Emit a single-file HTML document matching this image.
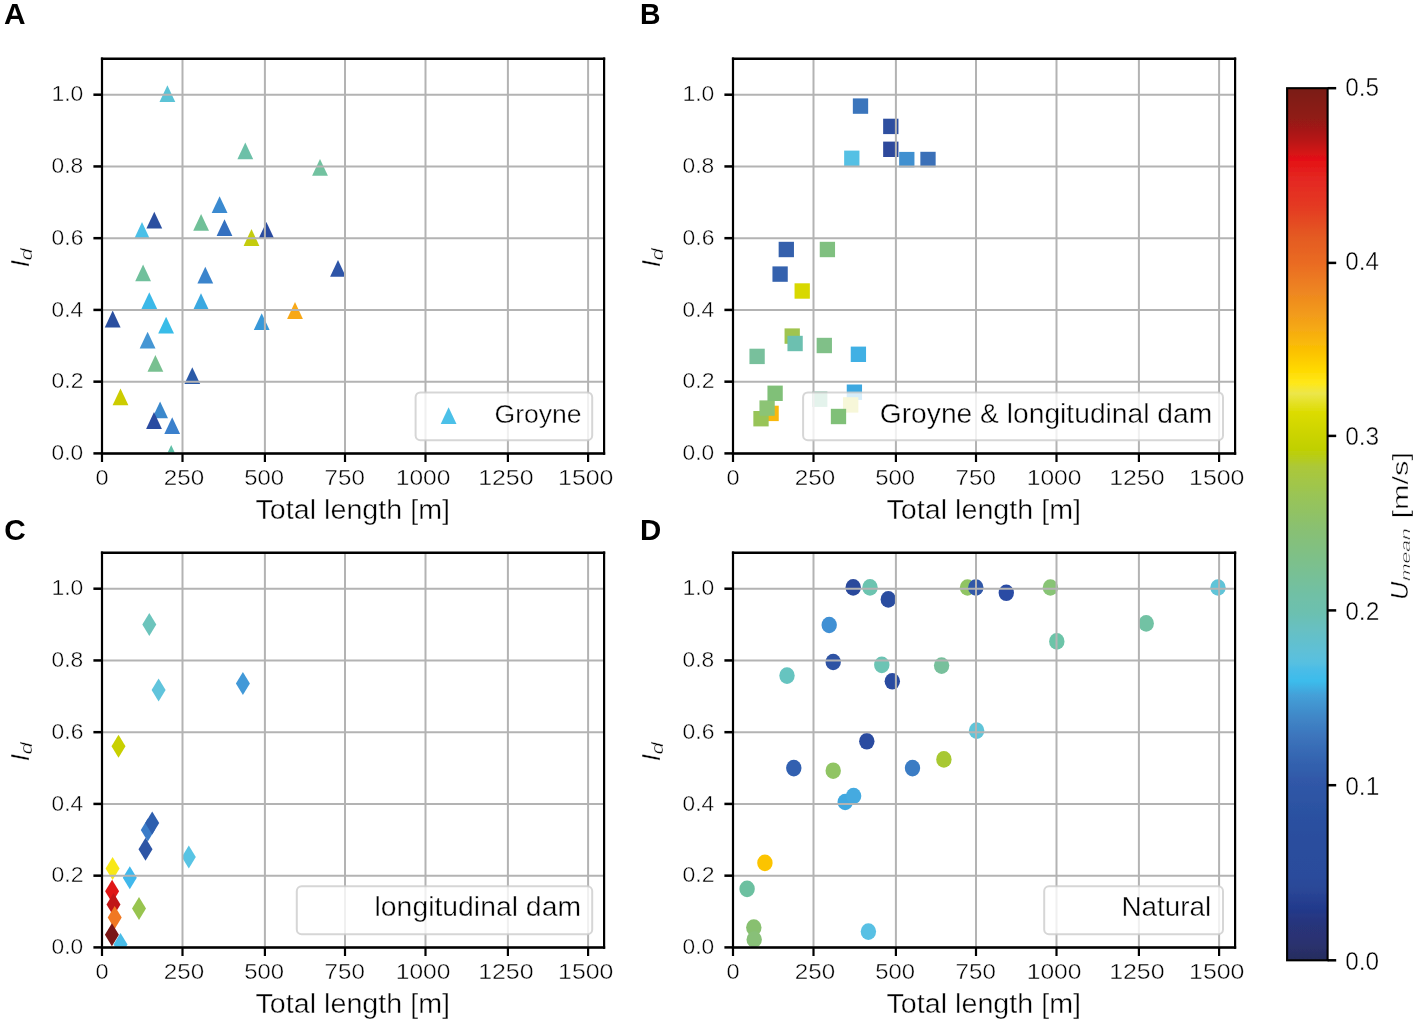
<!DOCTYPE html>
<html><head><meta charset="utf-8"><style>html,body{margin:0;padding:0;background:#fff;width:1417px;height:1023px;overflow:hidden} svg{display:block} svg text{font-family:"Liberation Sans",sans-serif;stroke:#fff;stroke-width:0.45px;stroke-opacity:0.9} svg text[font-weight=bold]{stroke:none}</style></head>
<body>
<svg width="1417" height="1023" viewBox="0 0 1417 1023">
<rect width="1417" height="1023" fill="#fff"/>
<filter id="soft" x="0" y="0" width="100%" height="100%" filterUnits="userSpaceOnUse"><feGaussianBlur stdDeviation="0.6"/></filter>
<g filter="url(#soft)">
<clipPath id="clipA"><rect x="102.00" y="58.80" width="502.10" height="394.60"/></clipPath>
<g clip-path="url(#clipA)">
<path d="M167.40,85.30L175.30,102.10L159.50,102.10Z" fill="#5bc3d6"/>
<path d="M245.30,142.50L253.20,159.30L237.40,159.30Z" fill="#6cc0a8"/>
<path d="M320.00,159.00L327.90,175.80L312.10,175.80Z" fill="#72c2a0"/>
<path d="M219.60,196.30L227.50,213.10L211.70,213.10Z" fill="#3a8ad0"/>
<path d="M154.30,211.70L162.20,228.50L146.40,228.50Z" fill="#2c4fa0"/>
<path d="M201.10,213.90L209.00,230.70L193.20,230.70Z" fill="#70c098"/>
<path d="M224.50,219.30L232.40,236.10L216.60,236.10Z" fill="#3470c0"/>
<path d="M142.00,222.10L149.90,238.90L134.10,238.90Z" fill="#4cc0e8"/>
<path d="M251.50,229.10L259.40,245.90L243.60,245.90Z" fill="#c4cc10"/>
<path d="M266.40,221.90L274.30,238.70L258.50,238.70Z" fill="#2c4ca0"/>
<path d="M143.10,264.40L151.00,281.20L135.20,281.20Z" fill="#70c09c"/>
<path d="M205.30,266.80L213.20,283.60L197.40,283.60Z" fill="#3a84cc"/>
<path d="M338.00,259.90L345.90,276.70L330.10,276.70Z" fill="#2d55a8"/>
<path d="M149.30,292.30L157.20,309.10L141.40,309.10Z" fill="#3ab8e8"/>
<path d="M201.00,293.30L208.90,310.10L193.10,310.10Z" fill="#3aa8e0"/>
<path d="M295.00,302.10L302.90,318.90L287.10,318.90Z" fill="#f8a818"/>
<path d="M112.70,310.60L120.60,327.40L104.80,327.40Z" fill="#2c50a0"/>
<path d="M166.10,316.70L174.00,333.50L158.20,333.50Z" fill="#38bce8"/>
<path d="M261.70,313.20L269.60,330.00L253.80,330.00Z" fill="#3898d8"/>
<path d="M147.60,331.70L155.50,348.50L139.70,348.50Z" fill="#4496d4"/>
<path d="M155.40,354.90L163.30,371.70L147.50,371.70Z" fill="#78c090"/>
<path d="M192.30,367.20L200.20,384.00L184.40,384.00Z" fill="#2c5aa8"/>
<path d="M120.50,388.50L128.40,405.30L112.60,405.30Z" fill="#cccc00"/>
<path d="M160.10,401.50L168.00,418.30L152.20,418.30Z" fill="#3a88cc"/>
<path d="M154.00,412.10L161.90,428.90L146.10,428.90Z" fill="#2c4ca0"/>
<path d="M172.20,417.30L180.10,434.10L164.30,434.10Z" fill="#3a80cc"/>
<path d="M171.20,445.00L179.10,461.80L163.30,461.80Z" fill="#60c0a8"/>
</g>
<line x1="102.00" y1="58.80" x2="102.00" y2="453.40" stroke="#b3b3b3" stroke-width="2.0"/>
<line x1="182.50" y1="58.80" x2="182.50" y2="453.40" stroke="#b3b3b3" stroke-width="2.0"/>
<line x1="264.90" y1="58.80" x2="264.90" y2="453.40" stroke="#b3b3b3" stroke-width="2.0"/>
<line x1="345.00" y1="58.80" x2="345.00" y2="453.40" stroke="#b3b3b3" stroke-width="2.0"/>
<line x1="425.50" y1="58.80" x2="425.50" y2="453.40" stroke="#b3b3b3" stroke-width="2.0"/>
<line x1="507.90" y1="58.80" x2="507.90" y2="453.40" stroke="#b3b3b3" stroke-width="2.0"/>
<line x1="588.10" y1="58.80" x2="588.10" y2="453.40" stroke="#b3b3b3" stroke-width="2.0"/>
<line x1="102.00" y1="453.40" x2="604.10" y2="453.40" stroke="#b3b3b3" stroke-width="2.0"/>
<line x1="102.00" y1="381.66" x2="604.10" y2="381.66" stroke="#b3b3b3" stroke-width="2.0"/>
<line x1="102.00" y1="309.92" x2="604.10" y2="309.92" stroke="#b3b3b3" stroke-width="2.0"/>
<line x1="102.00" y1="238.18" x2="604.10" y2="238.18" stroke="#b3b3b3" stroke-width="2.0"/>
<line x1="102.00" y1="166.44" x2="604.10" y2="166.44" stroke="#b3b3b3" stroke-width="2.0"/>
<line x1="102.00" y1="94.70" x2="604.10" y2="94.70" stroke="#b3b3b3" stroke-width="2.0"/>
<rect x="415.6" y="392.4" width="176.60" height="47.90" rx="4.8" ry="4.8" fill="#fff" fill-opacity="0.8" stroke="#cccccc" stroke-opacity="0.8" stroke-width="2"/>
<path d="M448.60,407.20L456.50,424.00L440.70,424.00Z" fill="#4cc0e8"/>
<text transform="translate(494.47,422.96) scale(1.0083,1)" font-size="26.37">Groyne</text>
<line x1="102.00" y1="57.60" x2="102.00" y2="454.70" stroke="#000" stroke-width="2.2"/>
<line x1="604.10" y1="57.60" x2="604.10" y2="454.70" stroke="#000" stroke-width="2.2"/>
<line x1="100.90" y1="58.80" x2="605.20" y2="58.80" stroke="#000" stroke-width="2.5"/>
<line x1="100.90" y1="453.40" x2="605.20" y2="453.40" stroke="#000" stroke-width="2.5"/>
<line x1="102.00" y1="453.40" x2="102.00" y2="462.00" stroke="#000" stroke-width="2.2"/>
<text transform="translate(95.46,485.28) scale(1.0529,1)" font-size="22.39">0</text>
<line x1="182.50" y1="453.40" x2="182.50" y2="462.00" stroke="#000" stroke-width="2.2"/>
<text transform="translate(163.79,485.28) scale(1.0802,1)" font-size="22.39">250</text>
<line x1="264.90" y1="453.40" x2="264.90" y2="462.00" stroke="#000" stroke-width="2.2"/>
<text transform="translate(244.15,485.28) scale(1.0649,1)" font-size="22.39">500</text>
<line x1="345.00" y1="453.40" x2="345.00" y2="462.00" stroke="#000" stroke-width="2.2"/>
<text transform="translate(324.59,485.28) scale(1.0774,1)" font-size="22.39">750</text>
<line x1="425.50" y1="453.40" x2="425.50" y2="462.00" stroke="#000" stroke-width="2.2"/>
<text transform="translate(395.76,485.28) scale(1.0984,1)" font-size="22.39">1000</text>
<line x1="507.90" y1="453.40" x2="507.90" y2="462.00" stroke="#000" stroke-width="2.2"/>
<text transform="translate(478.13,485.28) scale(1.1132,1)" font-size="22.39">1250</text>
<line x1="588.10" y1="453.40" x2="588.10" y2="462.00" stroke="#000" stroke-width="2.2"/>
<text transform="translate(558.03,485.28) scale(1.1132,1)" font-size="22.39">1500</text>
<line x1="102.00" y1="453.40" x2="93.40" y2="453.40" stroke="#000" stroke-width="2.5"/>
<text transform="translate(51.59,460.08) scale(1.0322,1)" font-size="22.11">0.0</text>
<line x1="102.00" y1="381.66" x2="93.40" y2="381.66" stroke="#000" stroke-width="2.5"/>
<text transform="translate(51.58,388.34) scale(1.0401,1)" font-size="22.11">0.2</text>
<line x1="102.00" y1="309.92" x2="93.40" y2="309.92" stroke="#000" stroke-width="2.5"/>
<text transform="translate(51.59,316.60) scale(1.0244,1)" font-size="22.11">0.4</text>
<line x1="102.00" y1="238.18" x2="93.40" y2="238.18" stroke="#000" stroke-width="2.5"/>
<text transform="translate(51.58,244.86) scale(1.0361,1)" font-size="22.11">0.6</text>
<line x1="102.00" y1="166.44" x2="93.40" y2="166.44" stroke="#000" stroke-width="2.5"/>
<text transform="translate(51.59,173.12) scale(1.0322,1)" font-size="22.11">0.8</text>
<line x1="102.00" y1="94.70" x2="93.40" y2="94.70" stroke="#000" stroke-width="2.5"/>
<text transform="translate(51.38,101.38) scale(1.0392,1)" font-size="22.11">1.0</text>
<text transform="translate(255.53,519.15) scale(1.0482,1)" font-size="27.38">Total length [m]</text>
<g transform="rotate(-90)">
<text transform="translate(-267.25,28.50) scale(1.0519,1)" font-size="24.93" font-style="italic">I</text>
</g>
<g transform="rotate(-90)">
<text transform="translate(-260.47,32.03) scale(1.2743,1)" font-size="17.28" font-style="italic">d</text>
</g>
<text transform="translate(4.10,23.95) scale(0.9999,1)" font-size="29.86" font-weight="bold">A</text>
<clipPath id="clipB"><rect x="733.00" y="58.80" width="502.10" height="394.60"/></clipPath>
<g clip-path="url(#clipB)">
<rect x="852.85" y="98.40" width="15.3" height="15.4" fill="#3a74bc"/>
<rect x="883.15" y="118.70" width="15.3" height="15.4" fill="#2f50a0"/>
<rect x="883.15" y="141.60" width="15.3" height="15.4" fill="#2e4a9c"/>
<rect x="844.15" y="150.60" width="15.3" height="15.4" fill="#54c0e4"/>
<rect x="899.15" y="151.90" width="15.3" height="15.4" fill="#4090d0"/>
<rect x="920.35" y="151.80" width="15.3" height="15.4" fill="#3a70b8"/>
<rect x="778.65" y="241.80" width="15.3" height="15.4" fill="#3460ac"/>
<rect x="819.75" y="241.80" width="15.3" height="15.4" fill="#80c080"/>
<rect x="772.45" y="266.40" width="15.3" height="15.4" fill="#3462ae"/>
<rect x="794.55" y="283.30" width="15.3" height="15.4" fill="#d8d800"/>
<rect x="784.55" y="328.40" width="15.3" height="15.4" fill="#a0c450"/>
<rect x="787.45" y="335.80" width="15.3" height="15.4" fill="#6cc0b0"/>
<rect x="816.65" y="337.80" width="15.3" height="15.4" fill="#80c088"/>
<rect x="749.45" y="348.70" width="15.3" height="15.4" fill="#78c09c"/>
<rect x="850.75" y="346.60" width="15.3" height="15.4" fill="#40b0e4"/>
<rect x="763.45" y="405.70" width="15.3" height="15.4" fill="#f8b810"/>
<rect x="753.35" y="411.00" width="15.3" height="15.4" fill="#98c458"/>
<rect x="759.45" y="400.40" width="15.3" height="15.4" fill="#8cc474"/>
<rect x="767.45" y="385.60" width="15.3" height="15.4" fill="#80c078"/>
<rect x="812.05" y="391.50" width="15.3" height="15.4" fill="#78c0a0"/>
<rect x="846.75" y="384.50" width="15.3" height="15.4" fill="#3ca8e0"/>
<rect x="843.05" y="397.20" width="15.3" height="15.4" fill="#d8d840"/>
</g>
<line x1="733.00" y1="58.80" x2="733.00" y2="453.40" stroke="#b3b3b3" stroke-width="2.0"/>
<line x1="813.50" y1="58.80" x2="813.50" y2="453.40" stroke="#b3b3b3" stroke-width="2.0"/>
<line x1="895.90" y1="58.80" x2="895.90" y2="453.40" stroke="#b3b3b3" stroke-width="2.0"/>
<line x1="976.00" y1="58.80" x2="976.00" y2="453.40" stroke="#b3b3b3" stroke-width="2.0"/>
<line x1="1056.50" y1="58.80" x2="1056.50" y2="453.40" stroke="#b3b3b3" stroke-width="2.0"/>
<line x1="1138.90" y1="58.80" x2="1138.90" y2="453.40" stroke="#b3b3b3" stroke-width="2.0"/>
<line x1="1219.10" y1="58.80" x2="1219.10" y2="453.40" stroke="#b3b3b3" stroke-width="2.0"/>
<line x1="733.00" y1="453.40" x2="1235.10" y2="453.40" stroke="#b3b3b3" stroke-width="2.0"/>
<line x1="733.00" y1="381.66" x2="1235.10" y2="381.66" stroke="#b3b3b3" stroke-width="2.0"/>
<line x1="733.00" y1="309.92" x2="1235.10" y2="309.92" stroke="#b3b3b3" stroke-width="2.0"/>
<line x1="733.00" y1="238.18" x2="1235.10" y2="238.18" stroke="#b3b3b3" stroke-width="2.0"/>
<line x1="733.00" y1="166.44" x2="1235.10" y2="166.44" stroke="#b3b3b3" stroke-width="2.0"/>
<line x1="733.00" y1="94.70" x2="1235.10" y2="94.70" stroke="#b3b3b3" stroke-width="2.0"/>
<rect x="803.1" y="392.4" width="419.90" height="47.90" rx="4.8" ry="4.8" fill="#fff" fill-opacity="0.8" stroke="#cccccc" stroke-opacity="0.8" stroke-width="2"/>
<rect x="830.85" y="408.80" width="15.3" height="15.4" fill="#80c078"/>
<text transform="translate(879.79,422.55) scale(0.9957,1)" font-size="28.34">Groyne &amp; longitudinal dam</text>
<line x1="733.00" y1="57.60" x2="733.00" y2="454.70" stroke="#000" stroke-width="2.2"/>
<line x1="1235.10" y1="57.60" x2="1235.10" y2="454.70" stroke="#000" stroke-width="2.2"/>
<line x1="731.90" y1="58.80" x2="1236.20" y2="58.80" stroke="#000" stroke-width="2.5"/>
<line x1="731.90" y1="453.40" x2="1236.20" y2="453.40" stroke="#000" stroke-width="2.5"/>
<line x1="733.00" y1="453.40" x2="733.00" y2="462.00" stroke="#000" stroke-width="2.2"/>
<text transform="translate(726.46,485.28) scale(1.0529,1)" font-size="22.39">0</text>
<line x1="813.50" y1="453.40" x2="813.50" y2="462.00" stroke="#000" stroke-width="2.2"/>
<text transform="translate(794.79,485.28) scale(1.0802,1)" font-size="22.39">250</text>
<line x1="895.90" y1="453.40" x2="895.90" y2="462.00" stroke="#000" stroke-width="2.2"/>
<text transform="translate(875.15,485.28) scale(1.0649,1)" font-size="22.39">500</text>
<line x1="976.00" y1="453.40" x2="976.00" y2="462.00" stroke="#000" stroke-width="2.2"/>
<text transform="translate(955.59,485.28) scale(1.0774,1)" font-size="22.39">750</text>
<line x1="1056.50" y1="453.40" x2="1056.50" y2="462.00" stroke="#000" stroke-width="2.2"/>
<text transform="translate(1026.76,485.28) scale(1.0984,1)" font-size="22.39">1000</text>
<line x1="1138.90" y1="453.40" x2="1138.90" y2="462.00" stroke="#000" stroke-width="2.2"/>
<text transform="translate(1109.13,485.28) scale(1.1132,1)" font-size="22.39">1250</text>
<line x1="1219.10" y1="453.40" x2="1219.10" y2="462.00" stroke="#000" stroke-width="2.2"/>
<text transform="translate(1189.03,485.28) scale(1.1132,1)" font-size="22.39">1500</text>
<line x1="733.00" y1="453.40" x2="724.40" y2="453.40" stroke="#000" stroke-width="2.5"/>
<text transform="translate(682.59,460.08) scale(1.0322,1)" font-size="22.11">0.0</text>
<line x1="733.00" y1="381.66" x2="724.40" y2="381.66" stroke="#000" stroke-width="2.5"/>
<text transform="translate(682.58,388.34) scale(1.0401,1)" font-size="22.11">0.2</text>
<line x1="733.00" y1="309.92" x2="724.40" y2="309.92" stroke="#000" stroke-width="2.5"/>
<text transform="translate(682.59,316.60) scale(1.0244,1)" font-size="22.11">0.4</text>
<line x1="733.00" y1="238.18" x2="724.40" y2="238.18" stroke="#000" stroke-width="2.5"/>
<text transform="translate(682.58,244.86) scale(1.0361,1)" font-size="22.11">0.6</text>
<line x1="733.00" y1="166.44" x2="724.40" y2="166.44" stroke="#000" stroke-width="2.5"/>
<text transform="translate(682.59,173.12) scale(1.0322,1)" font-size="22.11">0.8</text>
<line x1="733.00" y1="94.70" x2="724.40" y2="94.70" stroke="#000" stroke-width="2.5"/>
<text transform="translate(682.38,101.38) scale(1.0392,1)" font-size="22.11">1.0</text>
<text transform="translate(886.53,519.15) scale(1.0482,1)" font-size="27.38">Total length [m]</text>
<g transform="rotate(-90)">
<text transform="translate(-267.25,659.50) scale(1.0519,1)" font-size="24.93" font-style="italic">I</text>
</g>
<g transform="rotate(-90)">
<text transform="translate(-260.47,663.03) scale(1.2743,1)" font-size="17.28" font-style="italic">d</text>
</g>
<text transform="translate(640.11,23.75) scale(0.9688,1)" font-size="29.28" font-weight="bold">B</text>
<clipPath id="clipC"><rect x="102.00" y="552.80" width="502.10" height="394.60"/></clipPath>
<g clip-path="url(#clipC)">
<path d="M149.30,613.10L156.30,624.60L149.30,636.10L142.30,624.60Z" fill="#6cc4bc"/>
<path d="M158.60,678.40L165.60,689.90L158.60,701.40L151.60,689.90Z" fill="#60c4dc"/>
<path d="M242.90,671.90L249.90,683.40L242.90,694.90L235.90,683.40Z" fill="#4299d8"/>
<path d="M118.50,734.70L125.50,746.20L118.50,757.70L111.50,746.20Z" fill="#c8d000"/>
<path d="M147.80,818.60L154.80,830.10L147.80,841.60L140.80,830.10Z" fill="#3a7cc8"/>
<path d="M152.20,811.60L159.20,823.10L152.20,834.60L145.20,823.10Z" fill="#2f5eae"/>
<path d="M145.50,837.70L152.50,849.20L145.50,860.70L138.50,849.20Z" fill="#2d55a5"/>
<path d="M112.60,857.00L119.60,868.50L112.60,880.00L105.60,868.50Z" fill="#f8e818"/>
<path d="M129.80,866.20L136.80,877.70L129.80,889.20L122.80,877.70Z" fill="#40b8ec"/>
<path d="M188.80,845.60L195.80,857.10L188.80,868.60L181.80,857.10Z" fill="#58c4e4"/>
<path d="M112.10,879.70L119.10,891.20L112.10,902.70L105.10,891.20Z" fill="#e01818"/>
<path d="M113.50,893.10L120.50,904.60L113.50,916.10L106.50,904.60Z" fill="#c01818"/>
<path d="M139.00,897.00L146.00,908.50L139.00,920.00L132.00,908.50Z" fill="#98c450"/>
<path d="M114.70,906.10L121.70,917.60L114.70,929.10L107.70,917.60Z" fill="#f07820"/>
<path d="M111.90,923.30L118.90,934.80L111.90,946.30L104.90,934.80Z" fill="#7a1414"/>
<path d="M120.50,933.00L127.50,944.50L120.50,956.00L113.50,944.50Z" fill="#48bce8"/>
</g>
<line x1="102.00" y1="552.80" x2="102.00" y2="947.40" stroke="#b3b3b3" stroke-width="2.0"/>
<line x1="182.50" y1="552.80" x2="182.50" y2="947.40" stroke="#b3b3b3" stroke-width="2.0"/>
<line x1="264.90" y1="552.80" x2="264.90" y2="947.40" stroke="#b3b3b3" stroke-width="2.0"/>
<line x1="345.00" y1="552.80" x2="345.00" y2="947.40" stroke="#b3b3b3" stroke-width="2.0"/>
<line x1="425.50" y1="552.80" x2="425.50" y2="947.40" stroke="#b3b3b3" stroke-width="2.0"/>
<line x1="507.90" y1="552.80" x2="507.90" y2="947.40" stroke="#b3b3b3" stroke-width="2.0"/>
<line x1="588.10" y1="552.80" x2="588.10" y2="947.40" stroke="#b3b3b3" stroke-width="2.0"/>
<line x1="102.00" y1="947.40" x2="604.10" y2="947.40" stroke="#b3b3b3" stroke-width="2.0"/>
<line x1="102.00" y1="875.66" x2="604.10" y2="875.66" stroke="#b3b3b3" stroke-width="2.0"/>
<line x1="102.00" y1="803.92" x2="604.10" y2="803.92" stroke="#b3b3b3" stroke-width="2.0"/>
<line x1="102.00" y1="732.18" x2="604.10" y2="732.18" stroke="#b3b3b3" stroke-width="2.0"/>
<line x1="102.00" y1="660.44" x2="604.10" y2="660.44" stroke="#b3b3b3" stroke-width="2.0"/>
<line x1="102.00" y1="588.70" x2="604.10" y2="588.70" stroke="#b3b3b3" stroke-width="2.0"/>
<rect x="296.8" y="886.3" width="295.40" height="48.00" rx="4.8" ry="4.8" fill="#fff" fill-opacity="0.8" stroke="#cccccc" stroke-opacity="0.8" stroke-width="2"/>
<text transform="translate(374.56,916.14) scale(1.0161,1)" font-size="27.91">longitudinal dam</text>
<line x1="102.00" y1="551.60" x2="102.00" y2="948.70" stroke="#000" stroke-width="2.2"/>
<line x1="604.10" y1="551.60" x2="604.10" y2="948.70" stroke="#000" stroke-width="2.2"/>
<line x1="100.90" y1="552.80" x2="605.20" y2="552.80" stroke="#000" stroke-width="2.5"/>
<line x1="100.90" y1="947.40" x2="605.20" y2="947.40" stroke="#000" stroke-width="2.5"/>
<line x1="102.00" y1="947.40" x2="102.00" y2="956.00" stroke="#000" stroke-width="2.2"/>
<text transform="translate(95.46,979.28) scale(1.0529,1)" font-size="22.39">0</text>
<line x1="182.50" y1="947.40" x2="182.50" y2="956.00" stroke="#000" stroke-width="2.2"/>
<text transform="translate(163.79,979.28) scale(1.0802,1)" font-size="22.39">250</text>
<line x1="264.90" y1="947.40" x2="264.90" y2="956.00" stroke="#000" stroke-width="2.2"/>
<text transform="translate(244.15,979.28) scale(1.0649,1)" font-size="22.39">500</text>
<line x1="345.00" y1="947.40" x2="345.00" y2="956.00" stroke="#000" stroke-width="2.2"/>
<text transform="translate(324.59,979.28) scale(1.0774,1)" font-size="22.39">750</text>
<line x1="425.50" y1="947.40" x2="425.50" y2="956.00" stroke="#000" stroke-width="2.2"/>
<text transform="translate(395.76,979.28) scale(1.0984,1)" font-size="22.39">1000</text>
<line x1="507.90" y1="947.40" x2="507.90" y2="956.00" stroke="#000" stroke-width="2.2"/>
<text transform="translate(478.13,979.28) scale(1.1132,1)" font-size="22.39">1250</text>
<line x1="588.10" y1="947.40" x2="588.10" y2="956.00" stroke="#000" stroke-width="2.2"/>
<text transform="translate(558.03,979.28) scale(1.1132,1)" font-size="22.39">1500</text>
<line x1="102.00" y1="947.40" x2="93.40" y2="947.40" stroke="#000" stroke-width="2.5"/>
<text transform="translate(51.59,954.08) scale(1.0322,1)" font-size="22.11">0.0</text>
<line x1="102.00" y1="875.66" x2="93.40" y2="875.66" stroke="#000" stroke-width="2.5"/>
<text transform="translate(51.58,882.34) scale(1.0401,1)" font-size="22.11">0.2</text>
<line x1="102.00" y1="803.92" x2="93.40" y2="803.92" stroke="#000" stroke-width="2.5"/>
<text transform="translate(51.59,810.60) scale(1.0244,1)" font-size="22.11">0.4</text>
<line x1="102.00" y1="732.18" x2="93.40" y2="732.18" stroke="#000" stroke-width="2.5"/>
<text transform="translate(51.58,738.86) scale(1.0361,1)" font-size="22.11">0.6</text>
<line x1="102.00" y1="660.44" x2="93.40" y2="660.44" stroke="#000" stroke-width="2.5"/>
<text transform="translate(51.59,667.12) scale(1.0322,1)" font-size="22.11">0.8</text>
<line x1="102.00" y1="588.70" x2="93.40" y2="588.70" stroke="#000" stroke-width="2.5"/>
<text transform="translate(51.38,595.38) scale(1.0392,1)" font-size="22.11">1.0</text>
<text transform="translate(255.53,1013.15) scale(1.0482,1)" font-size="27.38">Total length [m]</text>
<g transform="rotate(-90)">
<text transform="translate(-761.25,28.50) scale(1.0519,1)" font-size="24.93" font-style="italic">I</text>
</g>
<g transform="rotate(-90)">
<text transform="translate(-754.47,32.03) scale(1.2743,1)" font-size="17.28" font-style="italic">d</text>
</g>
<text transform="translate(4.36,539.65) scale(0.9877,1)" font-size="30.14" font-weight="bold">C</text>
<clipPath id="clipD"><rect x="733.00" y="552.80" width="502.10" height="394.60"/></clipPath>
<g clip-path="url(#clipD)">
<ellipse cx="853.20" cy="587.40" rx="7.7" ry="8.3" fill="#2c4a9c"/>
<ellipse cx="870.00" cy="587.40" rx="7.7" ry="8.3" fill="#6cc4b0"/>
<ellipse cx="888.30" cy="599.40" rx="7.7" ry="8.3" fill="#2c4ea0"/>
<ellipse cx="967.50" cy="587.50" rx="7.7" ry="8.3" fill="#90c464"/>
<ellipse cx="975.80" cy="587.50" rx="7.7" ry="8.3" fill="#3058a8"/>
<ellipse cx="829.20" cy="625.00" rx="7.7" ry="8.3" fill="#4090d4"/>
<ellipse cx="833.20" cy="662.00" rx="7.7" ry="8.3" fill="#2e52a4"/>
<ellipse cx="881.80" cy="664.90" rx="7.7" ry="8.3" fill="#6cc4b4"/>
<ellipse cx="941.60" cy="665.60" rx="7.7" ry="8.3" fill="#78c09c"/>
<ellipse cx="787.00" cy="675.60" rx="7.7" ry="8.3" fill="#66c4c0"/>
<ellipse cx="892.30" cy="681.30" rx="7.7" ry="8.3" fill="#2c4ca0"/>
<ellipse cx="976.60" cy="730.60" rx="7.7" ry="8.3" fill="#60c4d8"/>
<ellipse cx="866.80" cy="741.30" rx="7.7" ry="8.3" fill="#2c4ca0"/>
<ellipse cx="793.80" cy="768.10" rx="7.7" ry="8.3" fill="#3060b0"/>
<ellipse cx="833.20" cy="770.70" rx="7.7" ry="8.3" fill="#90c464"/>
<ellipse cx="912.50" cy="768.10" rx="7.7" ry="8.3" fill="#3a7cc4"/>
<ellipse cx="943.90" cy="759.40" rx="7.7" ry="8.3" fill="#a8c830"/>
<ellipse cx="845.20" cy="802.00" rx="7.7" ry="8.3" fill="#40a8e0"/>
<ellipse cx="853.60" cy="796.00" rx="7.7" ry="8.3" fill="#44aae0"/>
<ellipse cx="1006.30" cy="592.80" rx="7.7" ry="8.3" fill="#2c4ca4"/>
<ellipse cx="1050.40" cy="587.50" rx="7.7" ry="8.3" fill="#88c474"/>
<ellipse cx="1056.80" cy="641.40" rx="7.7" ry="8.3" fill="#6cc4a8"/>
<ellipse cx="1146.20" cy="623.40" rx="7.7" ry="8.3" fill="#72c2a4"/>
<ellipse cx="1218.00" cy="587.50" rx="7.7" ry="8.3" fill="#60c4d8"/>
<ellipse cx="764.90" cy="862.90" rx="7.7" ry="8.3" fill="#fcc400"/>
<ellipse cx="747.10" cy="888.90" rx="7.7" ry="8.3" fill="#6cc0a0"/>
<ellipse cx="753.80" cy="927.60" rx="7.7" ry="8.3" fill="#88c070"/>
<ellipse cx="754.20" cy="939.50" rx="7.7" ry="8.3" fill="#88c078"/>
<ellipse cx="868.40" cy="931.60" rx="7.7" ry="8.3" fill="#58c0e4"/>
</g>
<line x1="733.00" y1="552.80" x2="733.00" y2="947.40" stroke="#b3b3b3" stroke-width="2.0"/>
<line x1="813.50" y1="552.80" x2="813.50" y2="947.40" stroke="#b3b3b3" stroke-width="2.0"/>
<line x1="895.90" y1="552.80" x2="895.90" y2="947.40" stroke="#b3b3b3" stroke-width="2.0"/>
<line x1="976.00" y1="552.80" x2="976.00" y2="947.40" stroke="#b3b3b3" stroke-width="2.0"/>
<line x1="1056.50" y1="552.80" x2="1056.50" y2="947.40" stroke="#b3b3b3" stroke-width="2.0"/>
<line x1="1138.90" y1="552.80" x2="1138.90" y2="947.40" stroke="#b3b3b3" stroke-width="2.0"/>
<line x1="1219.10" y1="552.80" x2="1219.10" y2="947.40" stroke="#b3b3b3" stroke-width="2.0"/>
<line x1="733.00" y1="947.40" x2="1235.10" y2="947.40" stroke="#b3b3b3" stroke-width="2.0"/>
<line x1="733.00" y1="875.66" x2="1235.10" y2="875.66" stroke="#b3b3b3" stroke-width="2.0"/>
<line x1="733.00" y1="803.92" x2="1235.10" y2="803.92" stroke="#b3b3b3" stroke-width="2.0"/>
<line x1="733.00" y1="732.18" x2="1235.10" y2="732.18" stroke="#b3b3b3" stroke-width="2.0"/>
<line x1="733.00" y1="660.44" x2="1235.10" y2="660.44" stroke="#b3b3b3" stroke-width="2.0"/>
<line x1="733.00" y1="588.70" x2="1235.10" y2="588.70" stroke="#b3b3b3" stroke-width="2.0"/>
<rect x="1044.2" y="886.3" width="178.80" height="48.00" rx="4.8" ry="4.8" fill="#fff" fill-opacity="0.8" stroke="#cccccc" stroke-opacity="0.8" stroke-width="2"/>
<text transform="translate(1121.47,916.02) scale(1.0030,1)" font-size="27.76">Natural</text>
<line x1="733.00" y1="551.60" x2="733.00" y2="948.70" stroke="#000" stroke-width="2.2"/>
<line x1="1235.10" y1="551.60" x2="1235.10" y2="948.70" stroke="#000" stroke-width="2.2"/>
<line x1="731.90" y1="552.80" x2="1236.20" y2="552.80" stroke="#000" stroke-width="2.5"/>
<line x1="731.90" y1="947.40" x2="1236.20" y2="947.40" stroke="#000" stroke-width="2.5"/>
<line x1="733.00" y1="947.40" x2="733.00" y2="956.00" stroke="#000" stroke-width="2.2"/>
<text transform="translate(726.46,979.28) scale(1.0529,1)" font-size="22.39">0</text>
<line x1="813.50" y1="947.40" x2="813.50" y2="956.00" stroke="#000" stroke-width="2.2"/>
<text transform="translate(794.79,979.28) scale(1.0802,1)" font-size="22.39">250</text>
<line x1="895.90" y1="947.40" x2="895.90" y2="956.00" stroke="#000" stroke-width="2.2"/>
<text transform="translate(875.15,979.28) scale(1.0649,1)" font-size="22.39">500</text>
<line x1="976.00" y1="947.40" x2="976.00" y2="956.00" stroke="#000" stroke-width="2.2"/>
<text transform="translate(955.59,979.28) scale(1.0774,1)" font-size="22.39">750</text>
<line x1="1056.50" y1="947.40" x2="1056.50" y2="956.00" stroke="#000" stroke-width="2.2"/>
<text transform="translate(1026.76,979.28) scale(1.0984,1)" font-size="22.39">1000</text>
<line x1="1138.90" y1="947.40" x2="1138.90" y2="956.00" stroke="#000" stroke-width="2.2"/>
<text transform="translate(1109.13,979.28) scale(1.1132,1)" font-size="22.39">1250</text>
<line x1="1219.10" y1="947.40" x2="1219.10" y2="956.00" stroke="#000" stroke-width="2.2"/>
<text transform="translate(1189.03,979.28) scale(1.1132,1)" font-size="22.39">1500</text>
<line x1="733.00" y1="947.40" x2="724.40" y2="947.40" stroke="#000" stroke-width="2.5"/>
<text transform="translate(682.59,954.08) scale(1.0322,1)" font-size="22.11">0.0</text>
<line x1="733.00" y1="875.66" x2="724.40" y2="875.66" stroke="#000" stroke-width="2.5"/>
<text transform="translate(682.58,882.34) scale(1.0401,1)" font-size="22.11">0.2</text>
<line x1="733.00" y1="803.92" x2="724.40" y2="803.92" stroke="#000" stroke-width="2.5"/>
<text transform="translate(682.59,810.60) scale(1.0244,1)" font-size="22.11">0.4</text>
<line x1="733.00" y1="732.18" x2="724.40" y2="732.18" stroke="#000" stroke-width="2.5"/>
<text transform="translate(682.58,738.86) scale(1.0361,1)" font-size="22.11">0.6</text>
<line x1="733.00" y1="660.44" x2="724.40" y2="660.44" stroke="#000" stroke-width="2.5"/>
<text transform="translate(682.59,667.12) scale(1.0322,1)" font-size="22.11">0.8</text>
<line x1="733.00" y1="588.70" x2="724.40" y2="588.70" stroke="#000" stroke-width="2.5"/>
<text transform="translate(682.38,595.38) scale(1.0392,1)" font-size="22.11">1.0</text>
<text transform="translate(886.53,1013.15) scale(1.0482,1)" font-size="27.38">Total length [m]</text>
<g transform="rotate(-90)">
<text transform="translate(-761.25,659.50) scale(1.0519,1)" font-size="24.93" font-style="italic">I</text>
</g>
<g transform="rotate(-90)">
<text transform="translate(-754.47,663.03) scale(1.2743,1)" font-size="17.28" font-style="italic">d</text>
</g>
<text transform="translate(640.04,539.55) scale(0.9955,1)" font-size="29.57" font-weight="bold">D</text>
<defs><linearGradient id="cmap" x1="0" y1="1" x2="0" y2="0">
<stop offset="0.0000" stop-color="#272c5e"/>
<stop offset="0.0200" stop-color="#2a3270"/>
<stop offset="0.0400" stop-color="#28347a"/>
<stop offset="0.0600" stop-color="#233a8c"/>
<stop offset="0.0800" stop-color="#2a4696"/>
<stop offset="0.0960" stop-color="#2c4c9c"/>
<stop offset="0.1420" stop-color="#2c4e9e"/>
<stop offset="0.1740" stop-color="#2c52a2"/>
<stop offset="0.2060" stop-color="#3058a8"/>
<stop offset="0.2300" stop-color="#3464b0"/>
<stop offset="0.2560" stop-color="#3c74bc"/>
<stop offset="0.2800" stop-color="#4088c8"/>
<stop offset="0.3040" stop-color="#44a0d8"/>
<stop offset="0.3200" stop-color="#3cbcec"/>
<stop offset="0.3320" stop-color="#48bce8"/>
<stop offset="0.3420" stop-color="#58c0e0"/>
<stop offset="0.3580" stop-color="#60c0d4"/>
<stop offset="0.3820" stop-color="#68c0c0"/>
<stop offset="0.3980" stop-color="#6cc0b0"/>
<stop offset="0.4180" stop-color="#70c0a6"/>
<stop offset="0.4560" stop-color="#7cc08c"/>
<stop offset="0.4920" stop-color="#88c074"/>
<stop offset="0.5300" stop-color="#98c458"/>
<stop offset="0.5660" stop-color="#acc838"/>
<stop offset="0.5860" stop-color="#c0d000"/>
<stop offset="0.6040" stop-color="#ccd400"/>
<stop offset="0.6280" stop-color="#dcdc00"/>
<stop offset="0.6500" stop-color="#ece64a"/>
<stop offset="0.6620" stop-color="#ffe818"/>
<stop offset="0.6780" stop-color="#ffd800"/>
<stop offset="0.6960" stop-color="#fcc400"/>
<stop offset="0.7300" stop-color="#f4a418"/>
<stop offset="0.7640" stop-color="#ee8820"/>
<stop offset="0.7980" stop-color="#ea6c20"/>
<stop offset="0.8300" stop-color="#e45a24"/>
<stop offset="0.8640" stop-color="#e43a24"/>
<stop offset="0.8980" stop-color="#e42620"/>
<stop offset="0.9180" stop-color="#e41014"/>
<stop offset="0.9400" stop-color="#b81818"/>
<stop offset="0.9660" stop-color="#901a16"/>
<stop offset="1.0000" stop-color="#7a1a14"/>
</linearGradient></defs>
<rect x="1287.1" y="88.2" width="40.50" height="872.10" fill="url(#cmap)" stroke="#000" stroke-width="2.1"/>
<line x1="1327.60" y1="960.30" x2="1336.20" y2="960.30" stroke="#000" stroke-width="2.5"/>
<text transform="translate(1345.23,970.20) scale(0.9659,1)" font-size="25.21">0.0</text>
<line x1="1327.60" y1="785.20" x2="1336.20" y2="785.20" stroke="#000" stroke-width="2.5"/>
<text transform="translate(1345.22,795.20) scale(0.9733,1)" font-size="25.21">0.1</text>
<line x1="1327.60" y1="610.40" x2="1336.20" y2="610.40" stroke="#000" stroke-width="2.5"/>
<text transform="translate(1345.22,620.30) scale(0.9733,1)" font-size="25.21">0.2</text>
<line x1="1327.60" y1="435.90" x2="1336.20" y2="435.90" stroke="#000" stroke-width="2.5"/>
<text transform="translate(1345.22,445.30) scale(0.9696,1)" font-size="25.21">0.3</text>
<line x1="1327.60" y1="262.90" x2="1336.20" y2="262.90" stroke="#000" stroke-width="2.5"/>
<text transform="translate(1345.23,270.40) scale(0.9586,1)" font-size="25.21">0.4</text>
<line x1="1327.60" y1="88.20" x2="1336.20" y2="88.20" stroke="#000" stroke-width="2.5"/>
<text transform="translate(1345.23,95.90) scale(0.9659,1)" font-size="25.21">0.5</text>
<g transform="rotate(-90)">
<text transform="translate(-600.00,1407.57) scale(1.1037,1)" font-size="23.00" font-style="italic">U</text>
</g>
<g transform="rotate(-90)">
<text transform="translate(-580.92,1409.77) scale(1.5657,1)" font-size="13.45" font-style="italic">mean</text>
</g>
<g transform="rotate(-90)">
<text transform="translate(-518.55,1407.67) scale(1.3942,1)" font-size="22.03">[m/s]</text>
</g>
</g>
</svg>
</body></html>
